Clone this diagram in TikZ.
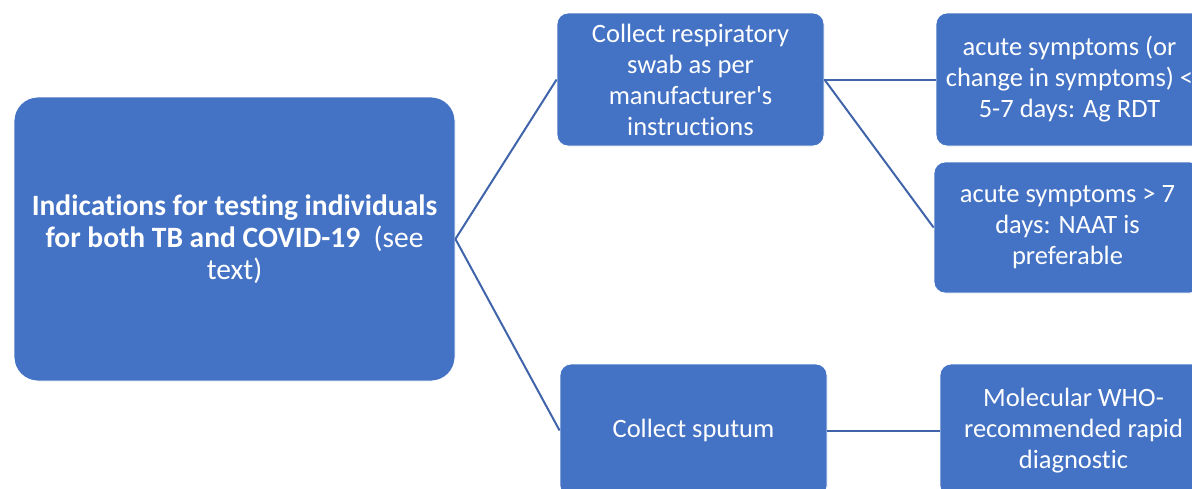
\documentclass[tikz,border=0pt]{standalone}
\usepackage{fontspec}
\setmainfont{Carlito}[Ligatures=NoCommon]
\definecolor{boxblue}{HTML}{4472C4}
\definecolor{lineblue}{HTML}{3F64AA}
\begin{document}
\begin{tikzpicture}[x=1pt,y=-1pt,
  box/.style={draw=white, line width=0.8pt, fill=boxblue, text=white, rounded corners=11pt,
    minimum width=267pt, minimum height=133pt, inner sep=0pt, align=center,
    font=\fontsize{26.5}{31}\selectfont},
  bigbox/.style={box, rounded corners=24pt, minimum width=441pt, minimum height=284pt,
    font=\fontsize{29.5}{32}\selectfont},
  conn/.style={draw=lineblue, line width=2pt}]
\useasboundingbox (0,0) rectangle (1192,488);
\clip (0,0) rectangle (1192,488);
\node[bigbox] (main) at (234.5,239) {\textbf{Indications for testing individuals}\\\textbf{for both TB and COVID-19}\ \ (see\\text)};
\node[box] (swab) at (690.5,79.5) {Collect respiratory\\swab as per\\manufacturer\textquotesingle s\\instructions};
\node[box] (ag) at (1069.5,79.5) {acute symptoms (or\\change in symptoms) <\\5-7 days: Ag RDT};
\node[box, minimum height=131pt] (naat) at (1067.5,227.5) {acute symptoms > 7\\days: NAAT is\\preferable};
\node[box] (sput) at (693.5,430.5) {Collect sputum};
\node[box] (mol) at (1073.5,430.5) {Molecular WHO-\\recommended rapid\\diagnostic};
\draw[conn] (main.east) -- (swab.west);
\draw[conn] (main.east) -- (sput.west);
\draw[conn] (swab.east) -- (ag.west);
\draw[conn] (swab.east) -- (naat.west);
\draw[conn] (sput.east) -- (mol.west);
\end{tikzpicture}
\end{document}
